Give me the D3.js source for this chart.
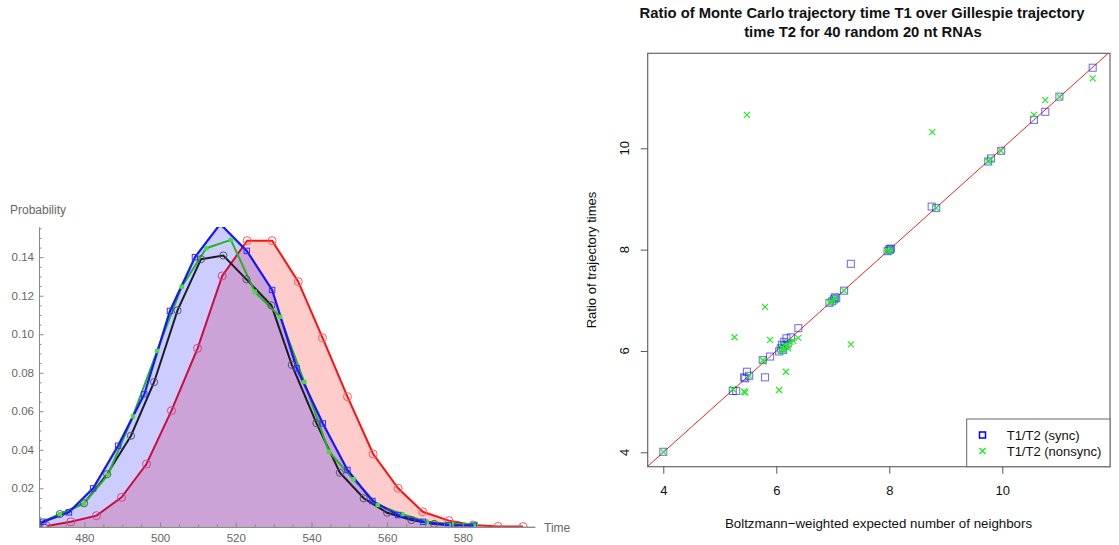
<!DOCTYPE html>
<meta charset="utf-8">
<style>
body { margin: 0; background: #fff; }
svg { font-family: "Liberation Sans", Arial, sans-serif; }
.laxis text { fill: #666; font-size: 11.5px; }
.laxis path, .laxis line { stroke: #888; }
.raxis path, .raxis line { stroke: #555; }
</style>
<svg width="1119" height="545"></svg>
<script src="https://d3js.org/d3.v7.min.js"></script>
<script>

// ---- left panel: probability vs time ----
var redTime  = [470.0, 476.4, 483.2, 489.8, 496.4, 503.0, 509.9, 516.4, 523.0, 529.6, 536.5, 542.9, 549.5, 556.3, 562.9, 569.4, 576.3, 582.7, 589.3, 595.9];
var redProb  = [0.0004, 0.0026, 0.0058, 0.0153, 0.0326, 0.0603, 0.0927, 0.1303, 0.1486, 0.1486, 0.1273, 0.0982, 0.0676, 0.0378, 0.0200, 0.0078, 0.0032, 0.0009, 0.0002, 0.0001];

var blueTime = [467.8, 469.1, 475.9, 482.3, 488.9, 495.8, 502.6, 509.2, 515.9, 522.9, 529.6, 536.1, 543.0, 549.5, 556.1, 562.9, 569.5, 576.3, 582.9];
var blueProb = [0.0014, 0.0026, 0.0075, 0.0200, 0.0421, 0.0688, 0.1121, 0.1400, 0.1573, 0.1433, 0.1230, 0.0823, 0.0537, 0.0295, 0.0134, 0.0061, 0.0026, 0.0009, 0.0006];

var blackTime = [467.8, 473.5, 479.9, 486.0, 492.3, 498.4, 504.6, 510.8, 516.7, 522.8, 529.4, 534.8, 541.3, 547.5, 553.8, 560.0, 566.4, 572.4, 578.8];
var blackProb = [0.0012, 0.0066, 0.0122, 0.0273, 0.0473, 0.0751, 0.1124, 0.1390, 0.1409, 0.1285, 0.1150, 0.0841, 0.0538, 0.0281, 0.0148, 0.0073, 0.0035, 0.0015, 0.0007];

var greenTime = [467.8, 473.5, 479.9, 486.2, 492.8, 499.2, 505.7, 512.2, 518.7, 525.0, 531.7, 538.1, 544.6, 551.1, 557.5, 564.0, 570.5, 577.0, 583.4];
var greenProb = [0.0018, 0.0066, 0.0121, 0.0269, 0.0573, 0.0913, 0.1247, 0.1447, 0.1490, 0.1221, 0.1091, 0.0752, 0.0390, 0.0247, 0.0113, 0.0066, 0.0026, 0.0015, 0.0015];

var timeTicks = [480, 500, 520, 540, 560, 580];
var probTicks = [0.02, 0.04, 0.06, 0.08, 0.10, 0.12, 0.14];

// ---- right panel: scatter ----
var syncX = [4.00, 5.23, 5.29, 5.43, 5.48, 5.52, 5.80, 5.76, 5.89, 6.05, 6.10, 6.14, 6.18, 6.26, 6.39, 6.08, 6.12, 6.94, 7.02, 7.04,
             7.20, 7.32, 7.97, 8.00, 8.03, 8.75, 8.83, 9.75, 9.80, 9.98, 10.56, 10.76, 11.01, 11.60, 6.99, 6.20, 5.45, 7.06, 8.01, 6.15];
var syncY = [4.01, 5.21, 5.21, 5.48, 5.59, 5.51, 5.48, 5.82, 5.89, 5.99, 6.12, 6.18, 6.25, 6.27, 6.45, 6.05, 6.02, 6.95, 7.02, 7.06,
             7.19, 7.72, 7.97, 8.01, 8.02, 8.85, 8.82, 9.74, 9.80, 9.95, 10.56, 10.72, 11.02, 11.59, 6.98, 6.15, 5.46, 7.04, 7.99, 6.10];
var nonsyncX = [4.00, 5.23, 5.43, 5.45, 5.52, 5.26, 5.80, 5.89, 5.76, 6.05, 6.17, 6.39, 7.32, 6.21, 6.10, 6.25, 5.48, 6.94, 7.02, 7.05,
                7.20, 7.97, 8.02, 8.83, 8.76, 9.75, 9.98, 10.56, 10.76, 11.01, 11.60, 6.15, 6.12, 5.78, 6.98, 8.00, 6.30, 6.08, 6.20, 9.80];
var nonsyncY = [4.01, 5.25, 5.20, 5.18, 5.51, 6.27, 6.87, 6.22, 5.82, 5.23, 5.59, 6.26, 6.13, 6.05, 6.08, 6.18, 10.66, 6.96, 7.00, 7.05,
                7.19, 7.98, 8.00, 8.82, 10.32, 9.74, 9.95, 10.66, 10.95, 11.02, 11.38, 6.12, 6.03, 5.80, 6.97, 7.97, 6.20, 6.00, 6.10, 9.78];
var scatterTicks = [4, 6, 8, 10];

var svg = d3.select("svg");

// ================= left panel =================
var lx = d3.scaleLinear().domain([468, 599]).range([39, 534.8]);
var ly = d3.scaleLinear().domain([0, 0.1557]).range([526.8, 227]);

svg.append("clipPath").attr("id", "lclip")
  .append("rect").attr("x", 39).attr("y", 227).attr("width", 496).attr("height", 300);

function pts(ts, ps) { return ts.map(function(t, i) { return [t, ps[i]]; }); }
var redData = pts(redTime, redProb),
    blueData = pts(blueTime, blueProb),
    blackData = pts(blackTime, blackProb),
    greenData = pts(greenTime, greenProb);

var area = d3.area().x(function(d) { return lx(d[0]); }).y0(ly(0)).y1(function(d) { return ly(d[1]); });
var line = d3.line().x(function(d) { return lx(d[0]); }).y(function(d) { return ly(d[1]); });

var lg = svg.append("g").attr("clip-path", "url(#lclip)");

// red fill + line + markers (under the blue fill)
lg.append("path").attr("d", area(redData)).attr("fill", "#ff0000").attr("fill-opacity", 0.2);
lg.append("path").attr("d", line(redData)).attr("fill", "none").attr("stroke", "#ff1010").attr("stroke-width", 2);
lg.selectAll(".rc").data(redData).enter().append("circle")
  .attr("cx", function(d) { return lx(d[0]); }).attr("cy", function(d) { return ly(d[1]); })
  .attr("r", 4).attr("fill", "none").attr("stroke", "#ff5a5a").attr("stroke-width", 1);

// blue fill over red
lg.append("path").attr("d", area(blueData)).attr("fill", "#0000ff").attr("fill-opacity", 0.2);

// lines
lg.append("path").attr("d", line(blackData)).attr("fill", "none").attr("stroke", "#1c1c28").attr("stroke-width", 2);
lg.append("path").attr("d", line(greenData)).attr("fill", "none").attr("stroke", "#22b422").attr("stroke-width", 2);
lg.append("path").attr("d", line(blueData)).attr("fill", "none").attr("stroke", "#1414ff").attr("stroke-width", 2.2);

// markers
lg.selectAll(".kc").data(blackData).enter().append("circle")
  .attr("cx", function(d) { return lx(d[0]); }).attr("cy", function(d) { return ly(d[1]); })
  .attr("r", 3.6).attr("fill", "none").attr("stroke", "#555566").attr("stroke-width", 1);
lg.selectAll(".gs").data(greenData).enter().append("rect")
  .attr("x", function(d) { return lx(d[0]) - 2.2; }).attr("y", function(d) { return ly(d[1]) - 2.2; })
  .attr("width", 4.4).attr("height", 4.4).attr("fill", "#44dd44");
lg.selectAll(".bs").data(blueData).enter().append("rect")
  .attr("x", function(d) { return lx(d[0]) - 2.7; }).attr("y", function(d) { return ly(d[1]) - 2.7; })
  .attr("width", 5.4).attr("height", 5.4).attr("fill", "none").attr("stroke", "#3030ff").attr("stroke-width", 1);

// left axes
var minorT = d3.range(470, 600, 5).filter(function(v) { return v % 20 !== 0; });
var minorP = d3.range(0.005, 0.156, 0.005).filter(function(v) { return Math.abs(v / 0.02 - Math.round(v / 0.02)) > 0.01; });

svg.append("g").attr("class", "laxis").attr("transform", "translate(0," + ly(0) + ")")
  .call(d3.axisBottom(lx).tickValues(minorT).tickSize(-2.5).tickSizeOuter(0).tickFormat(""));
svg.append("g").attr("class", "laxis").attr("transform", "translate(0," + ly(0) + ")")
  .call(d3.axisBottom(lx).tickValues(timeTicks).tickSize(-4.5).tickSizeOuter(0).tickPadding(7).tickFormat(d3.format("d")));
svg.append("g").attr("class", "laxis").attr("transform", "translate(" + lx(468) + ",0)")
  .call(d3.axisLeft(ly).tickValues(minorP).tickSize(-2.5).tickSizeOuter(0).tickFormat(""));
svg.append("g").attr("class", "laxis").attr("transform", "translate(" + lx(468) + ",0)")
  .call(d3.axisLeft(ly).tickValues(probTicks).tickSize(-4.5).tickSizeOuter(0).tickPadding(5).tickFormat(d3.format(".2f")));

svg.append("text").attr("x", 10).attr("y", 214).attr("fill", "#666").style("font-size", "12px").text("Probability");
svg.append("text").attr("x", 544).attr("y", 531.5).attr("fill", "#666").style("font-size", "12px").text("Time");

// ================= right panel =================
var rx = d3.scaleLinear().domain([3.724, 11.906]).range([647.7, 1110]);
var ry = d3.scaleLinear().domain([3.716, 11.875]).range([466.7, 53.3]);

svg.append("clipPath").attr("id", "rclip")
  .append("rect").attr("x", 647.7).attr("y", 53.3).attr("width", 462.3).attr("height", 413.4);

var rg = svg.append("g").attr("clip-path", "url(#rclip)");
rg.append("path")
  .attr("d", d3.line().x(function(d) { return rx(d); }).y(function(d) { return ry(d); })(rx.domain()))
  .attr("stroke", "#ff2020").attr("stroke-width", 1).attr("fill", "none");

var syncData = syncX.map(function(v, i) { return [v, syncY[i]]; });
var nonsyncData = nonsyncX.map(function(v, i) { return [v, nonsyncY[i]]; });

rg.selectAll(".sq").data(syncData).enter().append("rect")
  .attr("x", function(d) { return rx(d[0]) - 3.5; }).attr("y", function(d) { return ry(d[1]) - 3.5; })
  .attr("width", 7).attr("height", 7).attr("fill", "none")
  .attr("stroke", "#0000ff").attr("stroke-opacity", 0.55).attr("stroke-width", 1.1);

rg.selectAll(".xx").data(nonsyncData).enter().append("path")
  .attr("transform", function(d) { return "translate(" + rx(d[0]) + "," + ry(d[1]) + ")"; })
  .attr("d", "M-3,-3L3,3M-3,3L3,-3")
  .attr("stroke", "#22ee22").attr("stroke-width", 1.2).attr("fill", "none");

// frame
svg.append("rect").attr("x", 647.7).attr("y", 53.3).attr("width", 462.3).attr("height", 413.4)
  .attr("fill", "none").attr("stroke", "#666").attr("stroke-width", 1.2);

// axes
svg.append("g").attr("class", "raxis").attr("transform", "translate(0,466.7)")
  .call(d3.axisBottom(rx).tickValues(scatterTicks).tickSize(7).tickSizeOuter(0).tickPadding(12).tickFormat(d3.format("d")))
  .call(function(g) { g.select(".domain").remove(); })
  .selectAll("text").attr("fill", "#111").style("font-size", "13px");

var yax = svg.append("g").attr("class", "raxis").attr("transform", "translate(647.7,0)")
  .call(d3.axisLeft(ry).tickValues(scatterTicks).tickSize(7).tickSizeOuter(0).tickFormat(""))
  .call(function(g) { g.select(".domain").remove(); });
svg.selectAll(".ylab").data(scatterTicks).enter().append("text")
  .attr("transform", function(d) { return "translate(629," + ry(d) + ") rotate(-90)"; })
  .attr("text-anchor", "middle").attr("fill", "#111").style("font-size", "13px")
  .text(function(d) { return d; });

// titles and labels
svg.append("text").attr("x", 862).attr("y", 18.3).attr("text-anchor", "middle")
  .style("font-size", "14.8px").style("font-weight", "bold").attr("fill", "#111")
  .text("Ratio of Monte Carlo trajectory time T1 over Gillespie trajectory");
svg.append("text").attr("x", 863).attr("y", 36.7).attr("text-anchor", "middle")
  .style("font-size", "14.8px").style("font-weight", "bold").attr("fill", "#111")
  .text("time T2 for 40 random 20 nt RNAs");
svg.append("text").attr("x", 878.5).attr("y", 527.5).attr("text-anchor", "middle")
  .style("font-size", "13.3px").attr("fill", "#111")
  .text("Boltzmann\u2212weighted expected number of neighbors");
svg.append("text").attr("transform", "translate(596,260) rotate(-90)").attr("text-anchor", "middle")
  .style("font-size", "13px").attr("fill", "#111")
  .text("Ratio of trajectory times");

// legend
var leg = svg.append("g");
leg.append("rect").attr("x", 966.7).attr("y", 419).attr("width", 143.3).attr("height", 47.7)
  .attr("fill", "#fff").attr("stroke", "#666").attr("stroke-width", 1);
leg.append("rect").attr("x", 979.5).attr("y", 432).attr("width", 6).attr("height", 6)
  .attr("fill", "none").attr("stroke", "#0000ff").attr("stroke-width", 1.5);
leg.append("path").attr("transform", "translate(982.5,451)").attr("d", "M-3,-3L3,3M-3,3L3,-3")
  .attr("stroke", "#22ee22").attr("stroke-width", 1.5);
leg.append("text").attr("x", 1006.7).attr("y", 440).style("font-size", "13px").attr("fill", "#111").text("T1/T2 (sync)");
leg.append("text").attr("x", 1006.7).attr("y", 456).style("font-size", "13px").attr("fill", "#111").text("T1/T2 (nonsync)");
</script>
